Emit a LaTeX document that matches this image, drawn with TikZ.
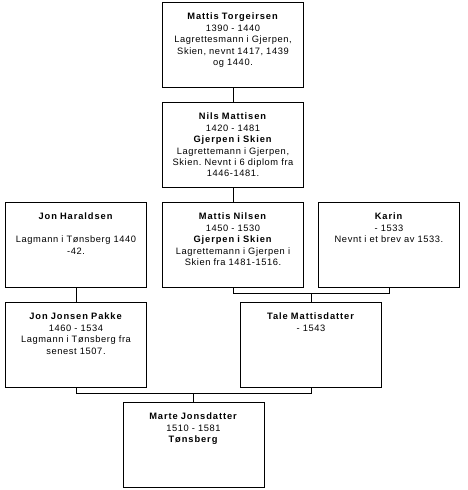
\documentclass[tikz,border=0pt]{standalone}
\usepackage{fontspec}
\setmainfont{Liberation Sans}[LetterSpace=6.5,BoldFeatures={LetterSpace=10}]
\usepackage{tikz}
\usetikzlibrary{positioning}
\frenchspacing

\begin{document}
\begin{tikzpicture}[
  x=1pt, y=1pt,
  font=\fontsize{9.3}{11.4}\selectfont,
  person/.style={draw, line width=0.8pt, text width=135pt, align=center,
    inner xsep=3pt, inner ysep=3pt, text height=14.5pt, text depth=64.5pt},
  link/.style={line width=0.8pt}
]
\useasboundingbox (0,0) rectangle (467,490);
% Row 1-2: Torgeirsen line
\node[person] (torg) at (233,445) {\textbf{Mattis Torgeirsen}\\1390 - 1440\\Lagrettesmann i Gjerpen,\\Skien, nevnt 1417, 1439\\og 1440.};
\node[person] (nils) at (233,345) {\textbf{Nils Mattisen}\\1420 - 1481\\\textbf{Gjerpen i Skien}\\Lagrettemann i Gjerpen,\\Skien. Nevnt i 6 diplom fra\\1446-1481.};
% Row 3
\node[person] (jonh) at (76,245) {\textbf{Jon Haraldsen}\\[11.4pt]Lagmann i Tønsberg 1440\\-42.};
\node[person] (mattn) at (233,245) {\textbf{Mattis Nilsen}\\1450 - 1530\\\textbf{Gjerpen i Skien}\\Lagrettemann i Gjerpen i\\Skien fra 1481-1516.};
\node[person] (karin) at (389,245) {\textbf{Karin}\\- 1533\\Nevnt i et brev av 1533.};
% Row 4
\node[person] (jonj) at (76,145) {\textbf{Jon Jonsen Pakke}\\1460 - 1534\\Lagmann i Tønsberg fra\\senest 1507.};
\node[person] (tale) at (311,145) {\textbf{Tale Mattisdatter}\\- 1543};
% Row 5
\node[person] (marte) at (193.5,45) {\textbf{Marte Jonsdatter}\\1510 - 1581\\\textbf{Tønsberg}};

% Connectors
\draw[link] (torg.south) -- (nils.north);
\draw[link] (nils.south) -- (mattn.north);
\draw[link] (jonh.south) -- (jonj.north);
\draw[link] (mattn.south) -- ++(0,-6) coordinate (mk) -| (karin.south);
\draw[link] (tale.north) -- (tale.north |- mk);
\draw[link] (jonj.south) -- ++(0,-6) coordinate (jt) -| (tale.south);
\draw[link] (marte.north) -- (marte.north |- jt);
\end{tikzpicture}
\end{document}
